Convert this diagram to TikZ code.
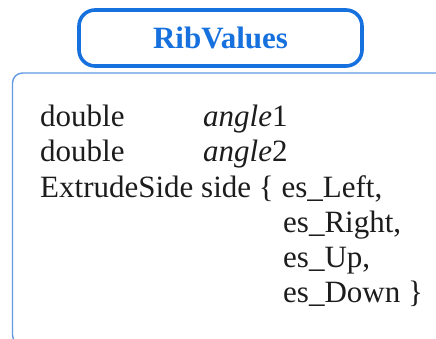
\documentclass[tikz,border=0pt]{standalone}
\usepackage{fontspec}
\setmainfont{Liberation Serif}
\usepackage{xcolor}
\usepackage{tikz}
\definecolor{ribblue}{RGB}{22,112,222}
\definecolor{framblue}{RGB}{96,154,226}
\definecolor{ink}{RGB}{28,28,28}
\tikzset{
  ttl/.style={draw=ribblue,line width=3.6pt,rounded corners=16pt,minimum width=283pt,minimum height=56pt,text=ribblue,font=\fontsize{31}{35}\selectfont\bfseries},
  frm/.style={draw=framblue,line width=1.4pt,rounded corners=10pt},
  fld/.style={anchor=base west,inner sep=0pt,text=ink,font=\fontsize{31}{35}\selectfont}
}
\newcommand{\esv}[1]{es\_#1}

\begin{document}
\begin{tikzpicture}[x=1pt,y=-1pt]
\useasboundingbox (0,0) rectangle (436,339);
\clip (0,0) rectangle (436,339);
\draw[frm] (12.5,73) rectangle (460,345);
\node[ttl] (title) at (220.5,38) {RibValues};
\node[fld] (dbla) at (40,127) {double}; \node[fld] (anga) at (203,127) {\textit{angle}1};
\node[fld] (dblb) at (40,162) {double}; \node[fld] (angb) at (203,162) {\textit{angle}2};
\node[fld] (side) at (40,197) {ExtrudeSide side \{ \esv{Left},};
\node[fld] (esr) at (283,232) {\esv{Right},};
\node[fld] (esu) at (283,267) {\esv{Up},};
\node[fld] (esd) at (283,302) {\esv{Down} \}};
\end{tikzpicture}
\end{document}
